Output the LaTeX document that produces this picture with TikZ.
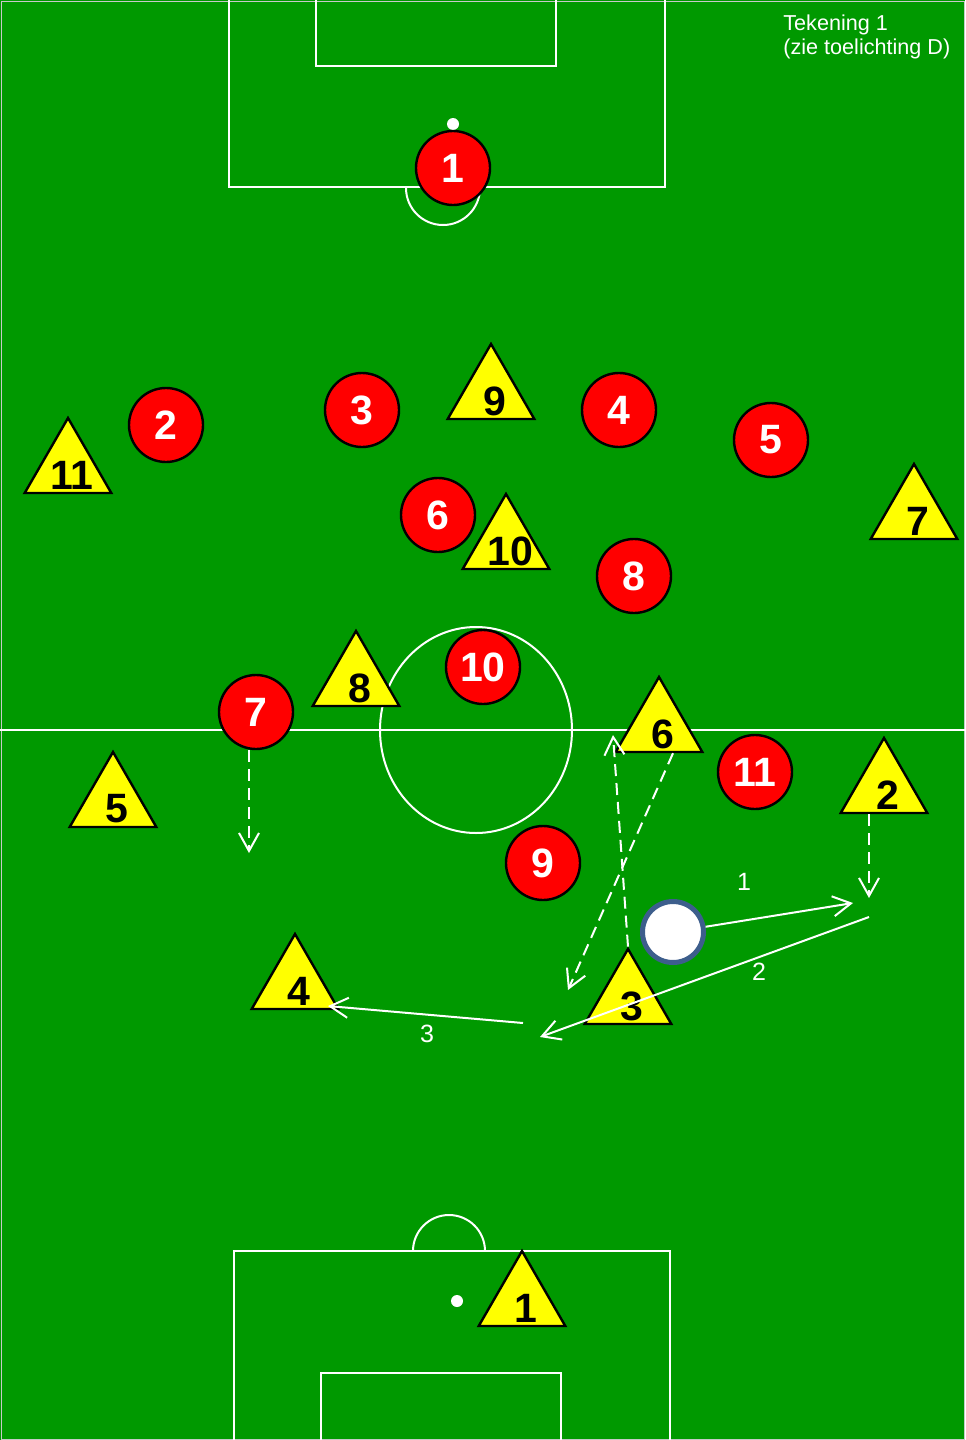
\documentclass[tikz,border=0pt]{standalone}
\usepackage{fontspec}
\setmainfont{Liberation Sans}
\usetikzlibrary{arrows.meta,shapes.geometric}
\definecolor{FieldGreen}{HTML}{009900}
\definecolor{FieldEdge}{HTML}{C8C8C8}
\definecolor{PlayerRed}{HTML}{FF0000}
\definecolor{PlayerYellow}{HTML}{FFFF00}
\definecolor{BallRim}{HTML}{3D5E8C}
\tikzset{
  fieldline/.style={white,line width=1pt},
  redplayer/.style={circle,draw=black,line width=1.2pt,fill=PlayerRed,text=white,
                    minimum size=37pt,inner sep=0pt,font=\fontsize{20.5}{20}\selectfont\bfseries},
  yellowplayer/.style={regular polygon,regular polygon sides=3,draw=black,line width=1.2pt,
                    fill=PlayerYellow,minimum size=50pt,inner sep=0pt,
                    label={[font=\fontsize{20.5}{20}\selectfont\bfseries,text=black,xshift=2pt,yshift=-3.5pt]center:#1}},
  ballnode/.style={circle,draw=BallRim,line width=2.5pt,fill=white,minimum size=30.5pt,inner sep=0pt},
  pass/.style={-{Straight Barb[length=9pt,width=10pt]},white,line width=1pt},
  run/.style={pass,dash pattern=on 6pt off 3.5pt},
  passlabel/.style={text=white,font=\fontsize{12.5}{14}\selectfont},
  note/.style={text=white,font=\fontsize{10.8}{12}\selectfont,align=left,anchor=north west,inner sep=0pt},
}
\begin{document}
\begin{tikzpicture}[x=0.5pt,y=-0.5pt]
  \useasboundingbox (0,0) rectangle (965,1440);
  % field
  \fill[FieldGreen] (0,0) rectangle (965,1440);
  \draw[FieldEdge,line width=0.5pt] (1,1) rectangle (964,1439);
  \draw[fieldline] (229,0) -- (229,187) -- (665,187) -- (665,0);
  \draw[fieldline] (316,0) -- (316,66) -- (556,66) -- (556,0);
  \draw[fieldline] (406,188) arc[start angle=180,end angle=0,radius=37];
  \fill[white] (453,124) circle[radius=6];
  \draw[fieldline] (0,730) -- (965,730);
  \draw[fieldline] (476,730) ellipse[x radius=96,y radius=103];
  \draw[fieldline] (234,1440) -- (234,1251) -- (670,1251) -- (670,1440);
  \draw[fieldline] (321,1440) -- (321,1373) -- (561,1373) -- (561,1440);
  \draw[fieldline] (413,1251) arc[start angle=180,end angle=360,radius=36];
  \fill[white] (457,1301) circle[radius=6];

  % red team
  \node[redplayer] (r1) at (453,168) {1};
  \node[redplayer] (r2) at (166,425) {2};
  \node[redplayer] (r3) at (362,410) {3};
  \node[redplayer] (r4) at (619,410) {4};
  \node[redplayer] (r5) at (771,440) {5};
  \node[redplayer] (r6) at (438,515) {6};
  \node[redplayer] (r7) at (256,712) {7};
  \node[redplayer] (r8) at (634,576) {8};
  \node[redplayer] (r9) at (543,863) {9};
  \node[redplayer] (r10) at (483,667) {10};
  \node[redplayer] (r11) at (755,772) {11};

  % yellow team
  \node[yellowplayer=1] (y1) at (522,1301) {};
  \node[yellowplayer=2] (y2) at (884,788) {};
  \node[yellowplayer=3] (y3) at (628,999) {};
  \node[yellowplayer=4] (y4) at (295,984) {};
  \node[yellowplayer=5] (y5) at (113,802) {};
  \node[yellowplayer=6] (y6) at (659,727) {};
  \node[yellowplayer=7] (y7) at (914,514) {};
  \node[yellowplayer=8] (y8) at (356,681) {};
  \node[yellowplayer=9] (y9) at (491,394) {};
  \node[yellowplayer=10] (y10) at (506,544) {};
  \node[yellowplayer=11] (y11) at (68,468) {};

  \node[ballnode] (ball) at (673,932) {};

  % runs and passes
  \coordinate (r7stop) at (249,853);
  \coordinate (y2stop) at (869,898);
  \coordinate (y6stop) at (568,990);
  \coordinate (y3stop) at (613,735);
  \coordinate (pass1end) at (853,903);
  \coordinate (pass2start) at (869,917);
  \coordinate (pass2end) at (540,1037);
  \coordinate (pass3start) at (523,1023);
  \coordinate (pass3end) at (328,1006);

  \draw[run] (r7.south -| r7stop) -- (r7stop);
  \draw[run] (y2.south -| y2stop) -- (y2stop);
  \draw[run] ([xshift=7pt]y6.south) -- (y6stop);
  \draw[run] (y3.corner 1) -- (y3stop);
  \draw[pass] (ball) -- (pass1end);
  \draw[pass] (pass2start) -- (pass2end);
  \draw[pass] (pass3start) -- (pass3end);

  \node[passlabel] (lab1) at (744,882) {1};
  \node[passlabel] (lab2) at (759,972) {2};
  \node[passlabel] (lab3) at (427,1034) {3};

  \node[note] (title) at (783,14) {Tekening 1\\(zie toelichting D)};
\end{tikzpicture}
\end{document}
